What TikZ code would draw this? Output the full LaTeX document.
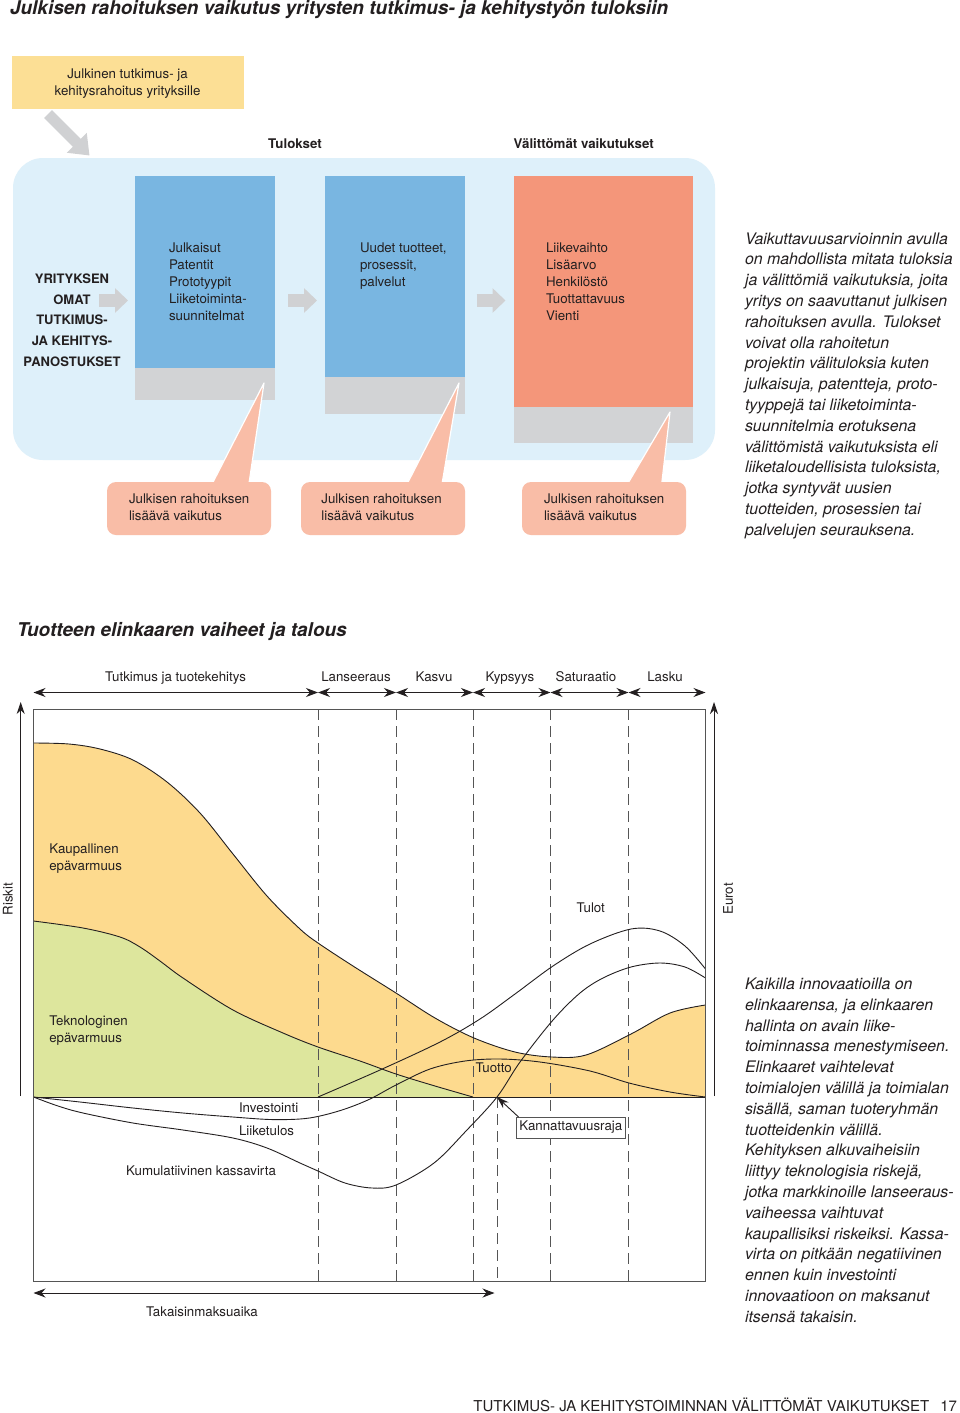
\documentclass[tikz,border=0pt]{standalone}
\usepackage{fontspec}
\setmainfont{TeX Gyre Heros}
\usetikzlibrary{arrows.meta}
\definecolor{fundyellow}{HTML}{FCDF95}
\definecolor{bgblue}{HTML}{DEF0FA}
\definecolor{resblue}{HTML}{79B6E1}
\definecolor{boxgrey}{HTML}{D2D3D5}
\definecolor{impactorange}{HTML}{F4967A}
\definecolor{calloutpink}{HTML}{F9BDA7}
\definecolor{arrowgrey}{HTML}{D0D1D3}
\definecolor{chartyellow}{HTML}{FDDA8E}
\definecolor{chartgreen}{HTML}{DDE69D}
\definecolor{ink}{HTML}{231F20}
\definecolor{framegrey}{HTML}{555555}
\begin{document}
\begin{tikzpicture}[x=1pt,y=-1pt,
  every node/.style={inner sep=0pt, outer sep=0pt, text=ink},
  lbl/.style={font=\fontsize{13.3}{17}\selectfont},
  boldlbl/.style={font=\fontsize{13.3}{17}\selectfont\bfseries},
  ptitle/.style={font=\fontsize{19}{22}\selectfont\bfseries\itshape, anchor=base west},
  para/.style={font=\fontsize{15.9}{20.8}\selectfont\itshape, align=left, anchor=north west},
  boxtext/.style={lbl, align=left, anchor=north west},
  callout/.style={fill=calloutpink, rounded corners=9pt, anchor=north west, minimum width=164pt, minimum height=53pt},
  pointer/.style={fill=calloutpink, draw=white, line width=1.2pt, line join=round},
  blockarrow/.style={draw=arrowgrey, line width=13pt, -{Triangle[length=13pt,width=24pt]}},
  curve/.style={draw=ink, line width=0.9pt},
  dashline/.style={draw=framegrey, line width=0.9pt, dash pattern=on 11pt off 6pt},
  dimarrow/.style={draw=ink, line width=0.9pt, {Stealth[length=12pt,width=9pt]}-{Stealth[length=12pt,width=9pt]}},
  axisarrow/.style={draw=ink, line width=0.9pt, -{Stealth[length=12pt,width=8pt]}},
]
\path[use as bounding box] (0,0) rectangle (960,1413);
\fill[white] (0,0) rectangle (960,1413);

% ---------- upper diagram ----------
\node[ptitle] (title1) at (10,15) {Julkisen rahoituksen vaikutus yritysten tutkimus- ja kehitystyön tuloksiin};

\node[fill=fundyellow, anchor=north west, minimum width=232pt, minimum height=52pt] (fund) at (11.5,56.5) {};
\node[lbl, align=center] (fundtext) at (127.5,83.5) {Julkinen tutkimus- ja\\kehitysrahoitus yrityksille};

\node[boldlbl, anchor=base] (tulokset) at (295,148.3) {Tulokset};
\node[boldlbl, anchor=base] (valitt) at (583.7,148.3) {Välittömät vaikutukset};

\node[fill=bgblue, rounded corners=30pt, anchor=north west, minimum width=702pt, minimum height=302pt] (panel) at (13,158) {};

\coordinate (fundtail) at (48,114);
\coordinate (fundtip) at (89.5,155.5);
\draw[draw=arrowgrey, line width=11pt, -{Triangle[length=18pt,width=27pt]}] (fundtail) -- (fundtip);

\node[fill=boxgrey, anchor=north west, minimum width=140pt, minimum height=224pt] (r1g) at (135,176) {};
\node[fill=resblue, anchor=north west, minimum width=140pt, minimum height=192pt] (r1) at (135,176) {};
\node[fill=boxgrey, anchor=north west, minimum width=140pt, minimum height=238pt] (r2g) at (325,176) {};
\node[fill=resblue, anchor=north west, minimum width=140pt, minimum height=200.5pt] (r2) at (325,176) {};
\node[fill=boxgrey, anchor=north west, minimum width=179pt, minimum height=267pt] (r3g) at (514,176) {};
\node[fill=impactorange, anchor=north west, minimum width=179pt, minimum height=230.5pt] (r3) at (514,176) {};

\node[font=\fontsize{13}{20.7}\selectfont\bfseries, align=center] (inputs) at (72,320) {YRITYKSEN\\OMAT\\TUTKIMUS-\\JA KEHITYS-\\PANOSTUKSET};

\coordinate (a1s) at (99,300.5);  \coordinate (a1e) at (128,300.5);
\coordinate (a2s) at (288,300.5); \coordinate (a2e) at (317,300.5);
\coordinate (a3s) at (476.5,300.5); \coordinate (a3e) at (505.5,300.5);
\draw[blockarrow] (a1s) -- (a1e);
\draw[blockarrow] (a2s) -- (a2e);
\draw[blockarrow] (a3s) -- (a3e);

\node[boxtext] (t1) at (169,243) {Julkaisut\\Patentit\\Prototyypit\\Liiketoiminta-\\suunnitelmat};
\node[boxtext] (t2) at (360,243) {Uudet tuotteet,\\prosessit,\\palvelut};
\node[boxtext] (t3) at (546,243) {Liikevaihto\\Lisäarvo\\Henkilöstö\\Tuottattavuus\\Vienti};

\path[pointer] (209,490) -- (264,383) -- (248,490) -- cycle;
\path[pointer] (404,490) -- (459,383) -- (441,490) -- cycle;
\path[pointer] (624,490) -- (670,412) -- (661,490) -- cycle;
\node[callout] (c1) at (107,482) {};
\node[callout] (c2) at (301,482) {};
\node[callout] (c3) at (522,482) {};
\node[lbl, align=left, anchor=west] (c1t) at (129,507) {Julkisen rahoituksen\\lisäävä vaikutus};
\node[lbl, align=left, anchor=west] (c2t) at (321.4,507) {Julkisen rahoituksen\\lisäävä vaikutus};
\node[lbl, align=left, anchor=west] (c3t) at (544,507) {Julkisen rahoituksen\\lisäävä vaikutus};

\node[para] (p1) at (745,232.6) {Vaikuttavuusarvioinnin avulla\\on mahdollista mitata tuloksia\\ja välittömiä vaikutuksia, joita\\yritys on saavuttanut julkisen\\rahoituksen avulla. Tulokset\\voivat olla rahoitetun\\projektin välituloksia kuten\\julkaisuja, patentteja, proto-\\tyyppejä tai liiketoiminta-\\suunnitelmia erotuksena\\välittömistä vaikutuksista eli\\liiketaloudellisista tuloksista,\\jotka syntyvät uusien\\tuotteiden, prosessien tai\\palvelujen seurauksena.};

% ---------- lower diagram ----------
\node[ptitle] (title2) at (17,636) {Tuotteen elinkaaren vaiheet ja talous};

\coordinate (b0) at (33.5,692.5);
\coordinate (b1) at (318,692.5);
\coordinate (b2) at (396,692.5);
\coordinate (b3) at (473,692.5);
\coordinate (b4) at (550.5,692.5);
\coordinate (b5) at (628.5,692.5);
\coordinate (b6) at (705.5,692.5);
\draw[dimarrow] (b0) -- (b1);
\draw[dimarrow] (b1) -- (b2);
\draw[dimarrow] (b2) -- (b3);
\draw[dimarrow] (b3) -- (b4);
\draw[dimarrow] (b4) -- (b5);
\draw[dimarrow] (b5) -- (b6);
\node[lbl, anchor=base] (ph1) at (175.6,681.5) {Tutkimus ja tuotekehitys};
\node[lbl, anchor=base] (ph2) at (356,681.5) {Lanseeraus};
\node[lbl, anchor=base] (ph3) at (434,681.5) {Kasvu};
\node[lbl, anchor=base] (ph4) at (510,681.5) {Kypsyys};
\node[lbl, anchor=base] (ph5) at (586,681.5) {Saturaatio};
\node[lbl, anchor=base] (ph6) at (665,681.5) {Lasku};

\node[anchor=north west, minimum width=672pt, minimum height=572pt] (chart) at (33.5,709) {};

% areas
\fill[chartyellow] plot[smooth, tension=0.55] coordinates {(33.5,743) (69,744) (100,749) (133,760) (167,782) (200,813) (233,854) (267,896) (300,929) (318,943) (353,966) (396,993) (435,1018) (474,1038) (515,1052) (552,1057) (586,1055) (631,1034) (670,1013) (705.5,1005)} -- (705.5,1097) -- (33.5,1097) -- cycle;
\fill[chartgreen] plot[smooth, tension=0.55] coordinates {(33.5,921) (83,928) (120,937) (140,947) (160,961) (183,978) (233,1010) (283,1033) (318,1047) (360,1061) (396,1074) (435,1086) (473,1097)} -- (33.5,1097) -- cycle;

% dashed phase lines
\foreach \xx in {318,396,473,550.5,628.5} \draw[dashline] (\xx,709) -- (\xx,1281);
\coordinate (bep) at (497,1097);
\draw[dashline] (bep) -- (497,1281);

% curves
\draw[curve] plot[smooth, tension=0.55] coordinates {(33.5,743) (69,744) (100,749) (133,760) (167,782) (200,813) (233,854) (267,896) (300,929) (318,943) (353,966) (396,993) (435,1018) (474,1038) (515,1052) (552,1057) (586,1055) (631,1034) (670,1013) (705.5,1005)};
\draw[curve] plot[smooth, tension=0.55] coordinates {(33.5,921) (83,928) (120,937) (140,947) (160,961) (183,978) (233,1010) (283,1033) (318,1047) (360,1061) (396,1074) (435,1086) (473,1097)};
% Tulot
\draw[curve] plot[smooth, tension=0.55] coordinates {(318,1097) (380,1070) (440,1042) (480,1019) (515,994) (553,966) (590,944) (631,929) (660,931) (685,946) (705.5,969)};
% Investointi / Tuotto
\draw[curve] plot[smooth, tension=0.55] coordinates {(33.5,1097) (80,1102) (133,1108) (183,1113) (233,1117) (270,1119.5) (300,1119) (320,1116) (345,1109) (370,1099) (396,1085) (430,1069) (465,1061) (500,1059) (540,1062) (590,1071) (629,1083) (670,1092) (705.5,1097)};
% Kumulatiivinen kassavirta
\draw[curve] plot[smooth, tension=0.55] coordinates {(33.5,1097) (58,1106) (83,1113) (133,1123) (183,1130) (233,1138) (267,1148) (300,1163) (318,1171) (345,1183) (372,1188) (396,1185) (434,1163) (466,1131) (497,1097) (520,1062) (553,1020) (580,993) (603,978) (631,967) (660,963) (685,967) (705.5,978)};

% baseline and frame
\draw[draw=ink, line width=1pt] (chart.west |- bep) -- (chart.east |- bep);
\draw[draw=framegrey, line width=1pt] (chart.north west) rectangle (chart.south east);

% axes
\coordinate (rbot) at (20.7,1096); \coordinate (rtop) at (20.7,702);
\coordinate (ebot) at (714,1096); \coordinate (etop) at (714,702);
\draw[axisarrow] (rbot) -- (rtop);
\draw[axisarrow] (ebot) -- (etop);
\node[lbl, rotate=90] (riskit) at (8,899) {Riskit};
\node[lbl, rotate=90] (eurot) at (728,899) {Eurot};

% chart labels
\node[lbl, align=left, anchor=north west] (kaup) at (49.3,843.3) {Kaupallinen\\epävarmuus};
\node[lbl, align=left, anchor=north west] (tekn) at (49.3,1015.5) {Teknologinen\\epävarmuus};
\node[lbl, anchor=base] (tulot) at (590.8,912.7) {Tulot};
\node[lbl, anchor=base west] (tuotto) at (475.5,1072) {Tuotto};
\node[lbl, anchor=base west] (invest) at (239,1112) {Investointi};
\node[lbl, anchor=base west] (liike) at (239,1135) {Liiketulos};
\node[lbl, anchor=base west] (kumul) at (126,1175.7) {Kumulatiivinen kassavirta};

\node[lbl, draw=framegrey, line width=0.9pt, fill=white, minimum width=108.5pt, minimum height=21pt] (kanna) at (570.8,1127.5) {Kannattavuusraja};
\draw[axisarrow] ([xshift=2pt]kanna.north west) -- (bep);

\coordinate (tk0) at (33.5,1293); \coordinate (tk1) at (494.5,1293);
\draw[dimarrow] (tk0) -- (tk1);
\node[lbl, anchor=base] (takais) at (202,1316) {Takaisinmaksuaika};

\node[para] (p2) at (745,977.9) {Kaikilla innovaatioilla on\\elinkaarensa, ja elinkaaren\\hallinta on avain liike-\\toiminnassa menestymiseen.\\Elinkaaret vaihtelevat\\toimialojen välillä ja toimialan\\sisällä, saman tuoteryhmän\\tuotteidenkin välillä.\\Kehityksen alkuvaiheisiin\\liittyy teknologisia riskejä,\\jotka markkinoille lanseeraus-\\vaiheessa vaihtuvat\\kaupallisiksi riskeiksi. Kassa-\\virta on pitkään negatiivinen\\ennen kuin investointi\\innovaatioon on maksanut\\itsensä takaisin.};

\node[font=\fontsize{15}{18}\selectfont, anchor=base east] (footer) at (957,1411) {TUTKIMUS- JA KEHITYSTOIMINNAN VÄLITTÖMÄT VAIKUTUKSET\hspace{11pt}17};
\end{tikzpicture}
\end{document}
